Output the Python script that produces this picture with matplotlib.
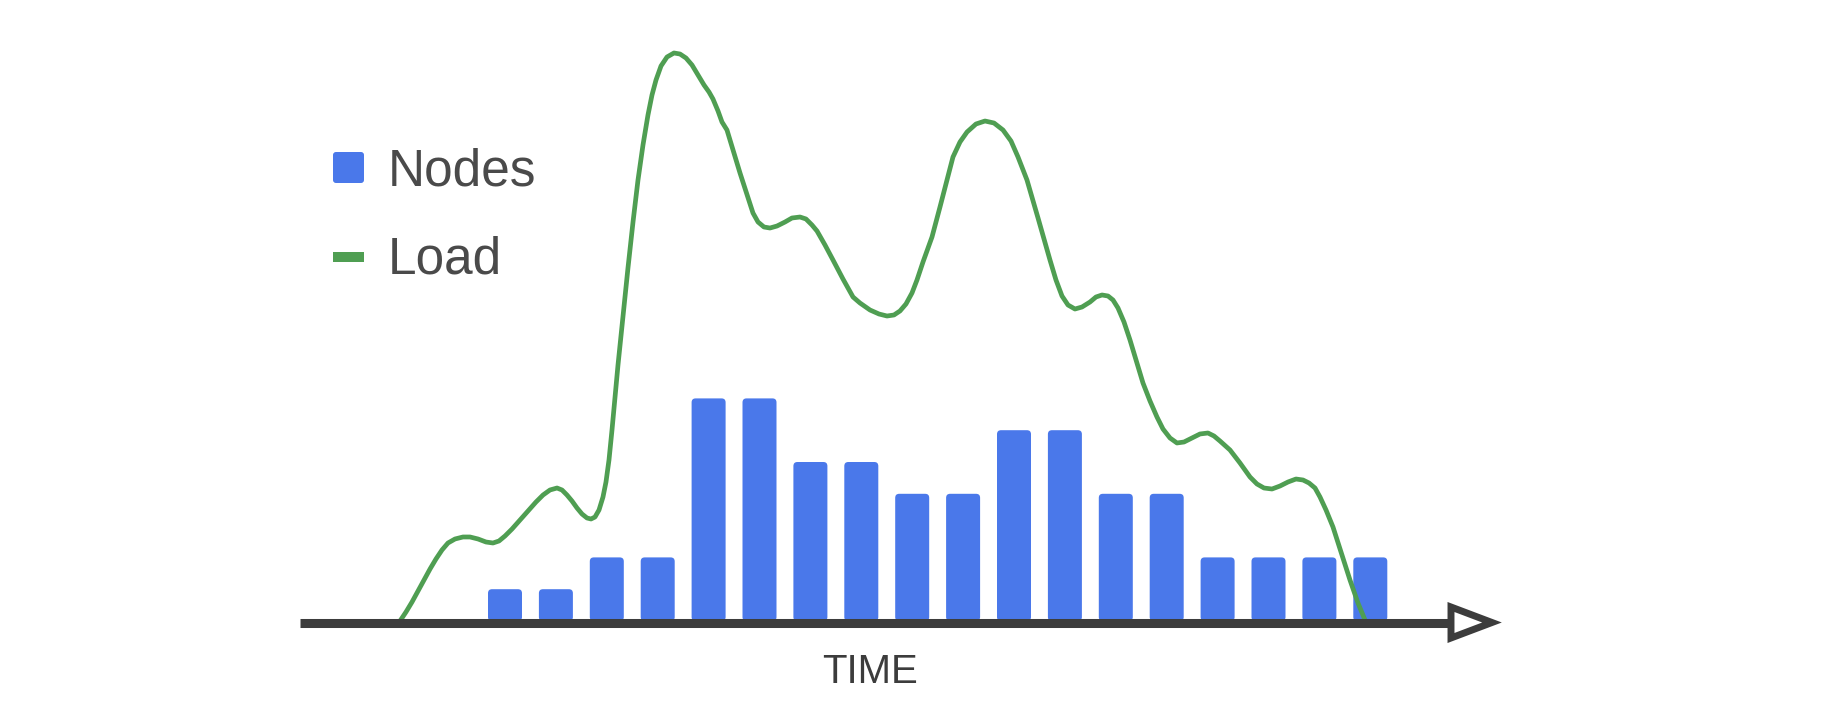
import numpy as np
import matplotlib
matplotlib.use('Agg')
import matplotlib.pyplot as plt
from matplotlib.patches import FancyBboxPatch, Polygon, Rectangle

plt.rcParams['font.family'] = ['Liberation Sans', 'DejaVu Sans']

### Data
# number of nodes at each time step (one bar per step)
node_counts = [1, 1, 2, 2, 7, 7, 5, 5, 4, 4, 6, 6, 4, 4, 2, 2, 2, 2]
# load curve, sampled along the drawn line (time in bar steps, load in node units)
load_t = [-2.063, -1.945, -1.827, -1.709, -1.611, -1.473, -1.356, -1.238, -1.120, -0.982,
          -0.825, -0.688, -0.530, -0.373, -0.236, -0.118, 0.000, 0.138, 0.295, 0.452,
          0.609, 0.747, 0.884, 1.022, 1.120, 1.218, 1.316, 1.415, 1.513, 1.611,
          1.690, 1.768, 1.847, 1.925, 1.984, 2.043, 2.102, 2.161, 2.220, 2.318,
          2.416, 2.515, 2.613, 2.711, 2.809, 2.888, 2.967, 3.065, 3.183, 3.320,
          3.438, 3.556, 3.674, 3.792, 3.910, 4.008, 4.086, 4.185, 4.263, 4.361,
          4.617, 4.872, 4.971, 5.088, 5.206, 5.344, 5.501, 5.638, 5.796, 5.913,
          6.031, 6.130, 6.287, 6.444, 6.640, 6.837, 6.974, 7.171, 7.348, 7.505,
          7.642, 7.760, 7.878, 7.996, 8.094, 8.212, 8.389, 8.546, 8.684, 8.801,
          8.939, 9.077, 9.253, 9.430, 9.607, 9.784, 9.941, 10.079, 10.255, 10.472,
          10.707, 10.825, 10.943, 11.061, 11.198, 11.336, 11.493, 11.611, 11.729, 11.847,
          11.945, 12.043, 12.161, 12.279, 12.534, 12.672, 12.809, 12.927, 13.065, 13.202,
          13.340, 13.497, 13.654, 13.811, 13.929, 14.047, 14.244, 14.440, 14.637, 14.774,
          14.912, 15.069, 15.226, 15.383, 15.540, 15.678, 15.796, 15.914, 16.012, 16.130,
          16.267, 16.424, 16.601, 16.758, 16.896]
load_v = [0.000, 0.283, 0.597, 0.943, 1.226, 1.635, 1.950, 2.233, 2.453, 2.579,
          2.642, 2.642, 2.579, 2.484, 2.453, 2.516, 2.673, 2.893, 3.176, 3.459,
          3.742, 3.962, 4.120, 4.182, 4.120, 3.962, 3.774, 3.553, 3.365, 3.239,
          3.208, 3.270, 3.491, 3.899, 4.371, 5.063, 6.006, 7.044, 8.050, 9.560,
          11.101, 12.547, 13.868, 14.969, 15.912, 16.541, 17.013, 17.453, 17.736, 17.862,
          17.830, 17.704, 17.484, 17.170, 16.855, 16.635, 16.415, 16.038, 15.692, 15.440,
          14.088, 12.830, 12.547, 12.390, 12.358, 12.421, 12.547, 12.673, 12.704, 12.642,
          12.453, 12.264, 11.824, 11.352, 10.755, 10.189, 10.000, 9.780, 9.654, 9.591,
          9.623, 9.749, 9.969, 10.315, 10.723, 11.289, 12.076, 13.019, 13.868, 14.591,
          15.063, 15.377, 15.629, 15.723, 15.660, 15.440, 15.094, 14.591, 13.868, 12.673,
          11.352, 10.723, 10.220, 9.937, 9.811, 9.874, 10.031, 10.189, 10.252, 10.220,
          10.094, 9.843, 9.403, 8.837, 7.484, 6.918, 6.415, 6.038, 5.755, 5.598,
          5.629, 5.755, 5.881, 5.912, 5.818, 5.660, 5.377, 4.969, 4.528, 4.308,
          4.182, 4.151, 4.245, 4.371, 4.465, 4.434, 4.340, 4.182, 3.899, 3.491,
          2.956, 2.170, 1.289, 0.566, 0.031]
series_labels = ['Nodes', 'Load']
axis_label = 'TIME'

### Style
bar_color = '#4a78ea'
line_color = '#4f9e52'
axis_color = '#3c3c3c'
text_color = '#4a4a4a'

W, H = 1830, 724
px_x = 50.9   # pixels per time step
px_y = 31.8   # pixels per node
x0_px, y0_px = 505, 621  # pixel of (0, 0), measured from top-left

fig = plt.figure(figsize=(W / 100, H / 100), dpi=100)
ax = fig.add_axes([0, 0, 1, 1])
ax.set_xlim(-x0_px / px_x, (W - x0_px) / px_x)
ax.set_ylim((y0_px - H) / px_y, y0_px / px_y)
ax.axis('off')

### Bars with rounded corners
bar_w = 34 / px_x
aspect = px_x / px_y
for i, n in enumerate(node_counts):
    ax.add_patch(FancyBboxPatch((i - bar_w / 2, 0), bar_w, n,
                                boxstyle='round,pad=0,rounding_size=%f' % (4 / px_x),
                                mutation_aspect=aspect,
                                facecolor=bar_color, edgecolor='none', zorder=2))

### Load curve
ax.plot(load_t, load_v, color=line_color, lw=3.4, solid_capstyle='butt',
        solid_joinstyle='round', zorder=3)

### Time axis with open arrow head
x_start = (300 - x0_px) / px_x
x_head = (1451 - x0_px) / px_x
x_tip = (1492 - x0_px) / px_x
y_ax = -1.5 / px_y
ax.plot([x_start, x_head], [y_ax, y_ax], color=axis_color, lw=6.5,
        solid_capstyle='butt', zorder=4)
half = 15.5 / px_y
ax.add_patch(Polygon([[x_head, y_ax + half], [x_head, y_ax - half], [x_tip, y_ax]],
                     closed=True, facecolor='white', edgecolor=axis_color,
                     lw=5, joinstyle='miter', zorder=5))

ax.text((870 - x0_px) / px_x, (y0_px - 672) / px_y, axis_label, fontsize=29,
        color=axis_color, ha='center', va='center')

### Legend drawn by hand
fig.patches.append(FancyBboxPatch((333 / W, 541 / H), 31 / W, 31 / H,
                                  boxstyle='round,pad=0,rounding_size=%f' % (3 / W),
                                  mutation_aspect=W / H,
                                  transform=fig.transFigure, facecolor=bar_color,
                                  edgecolor='none'))
fig.patches.append(Rectangle((333 / W, 462 / H), 31 / W, 10 / H,
                             transform=fig.transFigure, facecolor=line_color,
                             edgecolor='none'))
fig.text(388 / W, 539 / H, series_labels[0], fontsize=37, color=text_color,
         ha='left', va='baseline')
fig.text(388 / W, 451 / H, series_labels[1], fontsize=37, color=text_color,
         ha='left', va='baseline')

fig.savefig('out.png', dpi=100, facecolor='white')
